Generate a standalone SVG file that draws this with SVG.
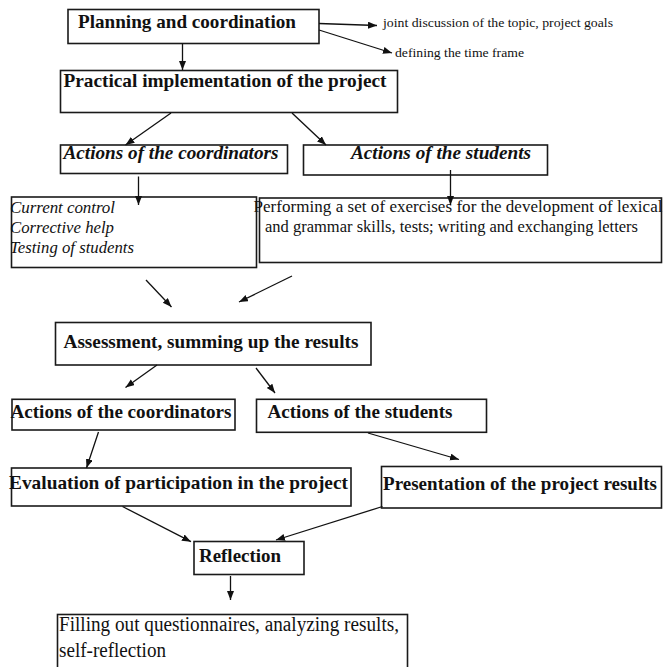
<svg xmlns="http://www.w3.org/2000/svg" width="663" height="667" viewBox="0 0 663 667">
<defs>
<marker id="ah" markerUnits="userSpaceOnUse" markerWidth="10" markerHeight="8" refX="9" refY="3.5" orient="auto">
<path d="M0,0 L9,3.5 L0,7 z" fill="#111"/>
</marker>
<style>
.box{fill:#fff;stroke:#1a1a1a;stroke-width:1.6}
.t{font-family:"Liberation Serif","Times New Roman",serif;fill:#111}
.b{font-weight:bold;font-size:19px}
.bi{font-weight:bold;font-style:italic;font-size:19px}
.i{font-style:italic;font-size:17px}
.r{font-size:17px}
.s{font-size:13.5px}
.c line{stroke:#111;stroke-width:1.3;marker-end:url(#ah)}
</style>
</defs>
<rect width="663" height="667" fill="#fff"/>
<g id="planning"><rect class="box" x="68" y="9.5" width="251" height="34"/><text class="t b" x="78" y="27.5" textLength="218" lengthAdjust="spacingAndGlyphs">Planning and coordination</text></g>
<g id="goals"><text class="t s" x="383" y="26.5" textLength="230" lengthAdjust="spacingAndGlyphs">joint discussion of the topic, project goals</text></g>
<g id="timeframe"><text class="t s" x="395" y="56.5" textLength="129" lengthAdjust="spacingAndGlyphs">defining the time frame</text></g>
<g id="practical"><rect class="box" x="60.5" y="70.5" width="337" height="42"/><text class="t b" x="63.5" y="86.5" textLength="323" lengthAdjust="spacingAndGlyphs">Practical implementation of the project</text></g>
<g id="coord1"><rect class="box" x="60.5" y="145" width="227" height="28.5"/><text class="t bi" x="63.5" y="159" textLength="215" lengthAdjust="spacingAndGlyphs">Actions of the coordinators</text></g>
<g id="stud1"><rect class="box" x="303.5" y="145" width="244" height="30"/><text class="t bi" x="351" y="159" textLength="180" lengthAdjust="spacingAndGlyphs">Actions of the students</text></g>
<g id="current"><rect class="box" x="11.5" y="197" width="245" height="70.5"/>
<text class="t i" x="10" y="212.5" textLength="105" lengthAdjust="spacing">Current control</text>
<text class="t i" x="10" y="232.5" textLength="104" lengthAdjust="spacingAndGlyphs">Corrective help</text>
<text class="t i" x="10" y="252.5" textLength="124" lengthAdjust="spacingAndGlyphs">Testing of students</text></g>
<g id="performing"><rect class="box" x="259.5" y="198" width="402" height="64.5"/>
<text class="t r" x="253.5" y="212" textLength="409" lengthAdjust="spacing">Performing a set of exercises for the development of lexical</text>
<text class="t r" x="265" y="232" textLength="373" lengthAdjust="spacingAndGlyphs">and grammar skills, tests; writing and exchanging letters</text></g>
<g id="assessment"><rect class="box" x="55.5" y="322.5" width="315.5" height="42.5"/><text class="t b" x="63.5" y="348.3" textLength="295" lengthAdjust="spacingAndGlyphs">Assessment, summing up the results</text></g>
<g id="coord2"><rect class="box" x="12" y="399.3" width="223" height="30.7"/><text class="t b" x="10.5" y="418.3" textLength="221" lengthAdjust="spacingAndGlyphs">Actions of the coordinators</text></g>
<g id="stud2"><rect class="box" x="256.5" y="399.3" width="230" height="33"/><text class="t b" x="267.5" y="418.3" textLength="185" lengthAdjust="spacingAndGlyphs">Actions of the students</text></g>
<g id="evaluation"><rect class="box" x="11.5" y="468" width="339.5" height="38"/><text class="t b" x="9" y="489" textLength="339" lengthAdjust="spacingAndGlyphs">Evaluation of participation in the project</text></g>
<g id="presentation"><rect class="box" x="381.5" y="466.5" width="280" height="41.5"/><text class="t b" x="383" y="490" textLength="274" lengthAdjust="spacingAndGlyphs">Presentation of the project results</text></g>
<g id="reflection"><rect class="box" x="194" y="541.5" width="110" height="33"/><text class="t b" x="199" y="561.5" textLength="82" lengthAdjust="spacingAndGlyphs">Reflection</text></g>
<g id="filling"><rect class="box" x="57.5" y="614.5" width="350" height="62"/>
<text class="t" font-size="20" x="59" y="631" textLength="340" lengthAdjust="spacingAndGlyphs">Filling out questionnaires, analyzing results,</text>
<text class="t" font-size="20" x="59" y="657" textLength="107" lengthAdjust="spacingAndGlyphs">self-reflection</text></g>
<g id="connectors" class="c">
<line x1="319" y1="23.5" x2="377" y2="25.5"/>
<line x1="319" y1="30" x2="392" y2="53"/>
<line x1="182.5" y1="43.5" x2="182.5" y2="70"/>
<line x1="171" y1="113" x2="125.5" y2="145"/>
<line x1="292" y1="113" x2="326" y2="145"/>
<line x1="138.5" y1="176.5" x2="138.5" y2="205"/>
<line x1="450.5" y1="170" x2="450.5" y2="205"/>
<line x1="146" y1="280" x2="171.5" y2="307"/>
<line x1="292" y1="276" x2="239" y2="302"/>
<line x1="157" y1="365" x2="125.5" y2="387.5"/>
<line x1="256" y1="368" x2="275" y2="393"/>
<line x1="98.5" y1="432" x2="86.5" y2="468"/>
<line x1="368" y1="433" x2="459" y2="459.5"/>
<line x1="122.5" y1="506.5" x2="191" y2="541.7"/>
<line x1="382.5" y1="506.5" x2="276" y2="540"/>
<line x1="230.5" y1="576" x2="230.5" y2="600"/>
</g>
</svg>
